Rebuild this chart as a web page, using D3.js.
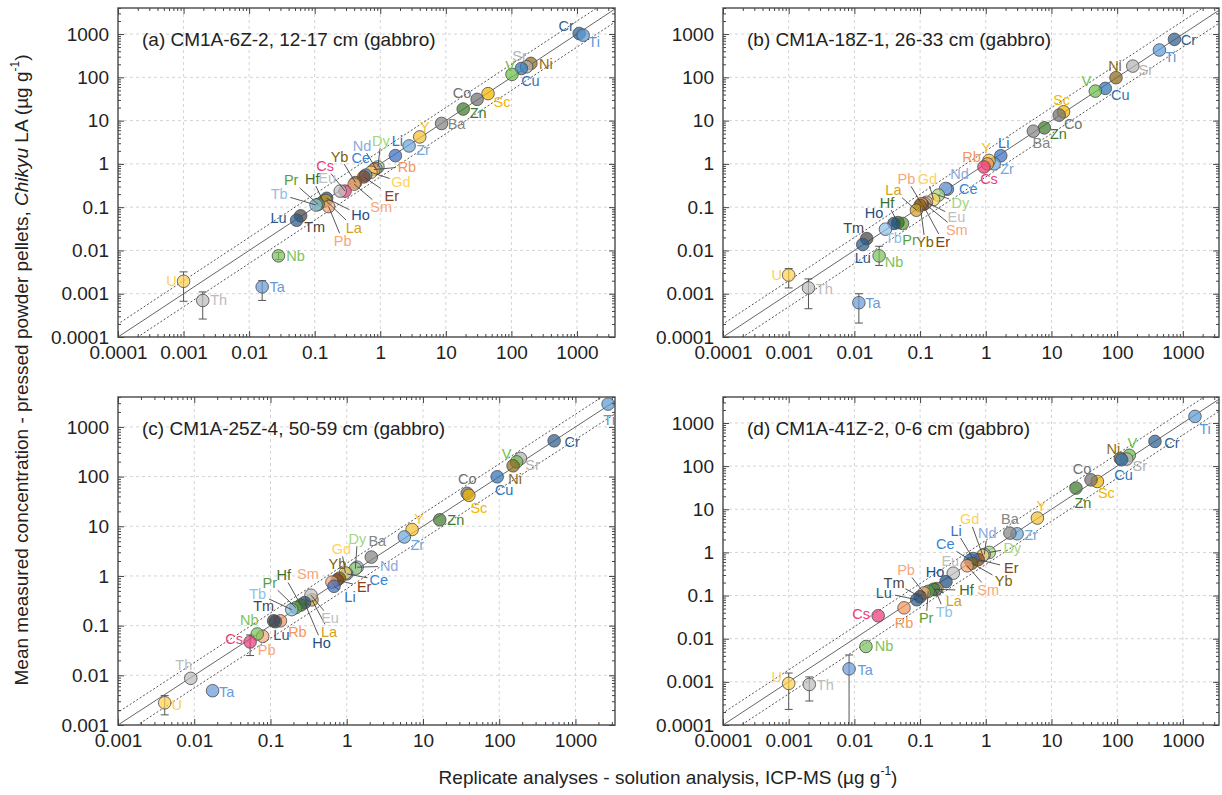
<!DOCTYPE html>
<html>
<head>
<meta charset="utf-8">
<script src="https://cdn.jsdelivr.net/npm/d3@7"></script>
<style>
  body { margin: 0; background: #fff; }
  svg text { font-family: "Liberation Sans", Arial, sans-serif; }
</style>
</head>
<body>
<svg id="chart" width="1222" height="795"></svg>
<script>
// colour of each element, used for marker and label
const elColour = {
  Cr:'#2f5f8f', Ti:'#5b9bd5', Ni:'#8b6a1e', Sr:'#b3b3b3', V:'#6cbf4a', Cu:'#2e74b5',
  Co:'#707070', Sc:'#f2b600', Zn:'#3e7b2c', Ba:'#858585', Y:'#f5c030', Zr:'#6fa8dc',
  Li:'#3d6fc2', Nd:'#8eaadb', Dy:'#9fd67e', Ce:'#3585d4', Rb:'#f4965a', Gd:'#ffd25e',
  Er:'#86401a', Sm:'#f7a77a', Yb:'#7f6000', Cs:'#ec3b7c', Eu:'#c0c0c0', Ho:'#1f4e84',
  La:'#d4a020', Pb:'#f7a77a', Hf:'#3b6e2a', Pr:'#5a9e3a', Tb:'#8fbfe8', Tm:'#454545',
  Lu:'#2a5a8a', Nb:'#7cc25c', U:'#ffd050', Th:'#bcbcbc', Ta:'#6a9ad8'
};

// (a) CM1A-6Z-2
const elA  = ['Cr','Ti','Ni','Sr','Cu','V','Sc','Co','Zn','Ba','Y','Zr','Li','Dy','Nd','Rb','Gd','Ce','Er','Yb','Sm','Cs','Eu','Ho','Hf','La','Pb','Pr','Tb','Tm','Lu','Nb','Ta','U','Th'];
const solA = [1080,1240,198,170,142,102,44,30,18.4,8.6,4.0,2.75,1.7,0.92,0.86,0.8,0.72,0.6,0.56,0.42,0.4,0.29,0.245,0.152,0.135,0.148,0.163,0.113,0.105,0.061,0.053,0.028,0.0158,0.001,0.00196];
const laA  = [1030,940,210,175,160,117,42,31,18.5,8.6,4.2,2.6,1.55,0.85,0.78,0.74,0.64,0.55,0.5,0.37,0.34,0.235,0.235,0.16,0.135,0.142,0.103,0.116,0.112,0.063,0.05,0.0075,0.00144,0.00194,0.0007];
const errElA = ['U','Th','Ta','Nb'];
const errLoA = [0.00067,0.00026,0.0007,0.0062];
const errHiA = [0.0032,0.0011,0.002,0.009];

// (b) CM1A-18Z-1
const elB  = ['Cr','Ti','Sr','Ni','Cu','V','Sc','Co','Zn','Ba','Li','Zr','Y','Rb','Cs','Ce','Nd','Dy','Gd','Eu','Sm','Er','Pb','Yb','La','Pr','Hf','Ho','Tb','Tm','Lu','Nb','Ta','U','Th'];
const solB = [745,440,173,96,66,46.5,15.3,13.1,7.8,5.3,1.69,1.34,1.12,1.06,0.94,0.26,0.245,0.19,0.16,0.125,0.118,0.11,0.105,0.1,0.088,0.054,0.046,0.04,0.0297,0.0154,0.0134,0.0238,0.0117,0.001,0.002];
const laB  = [754,428,182,98,55.5,48,16,13.4,6.8,5.7,1.54,1.0,1.2,1.0,0.85,0.26,0.27,0.19,0.15,0.13,0.12,0.115,0.12,0.11,0.085,0.042,0.044,0.042,0.031,0.0188,0.0137,0.0075,0.00062,0.0027,0.00136];
const errElB = ['U','Th','Ta','Nb'];
const errLoB = [0.00136,0.00045,0.00021,0.0045];
const errHiB = [0.0038,0.0022,0.001,0.0125];

// (c) CM1A-25Z-4
const elC  = ['Ti','Cr','Sr','V','Ni','Cu','Co','Sc','Zn','Y','Zr','Ba','Nd','Dy','Ce','Gd','Yb','Er','Sm','Li','La','Eu','Ho','Hf','Pr','Tb','Rb','Lu','Tm','Pb','Nb','Cs','Ta','Th','U'];
const solC = [2680,525,190,169,152,94,38,40,16.6,7.2,5.7,2.1,1.37,1.3,1.0,0.96,0.8,0.75,0.64,0.68,0.35,0.34,0.28,0.25,0.215,0.19,0.135,0.116,0.11,0.079,0.067,0.054,0.0174,0.009,0.0041];
const laC  = [2880,525,232,198,165,99,46,42,13.5,8.6,6.1,2.4,1.5,1.4,1.1,1.15,0.9,0.83,0.75,0.62,0.33,0.41,0.29,0.26,0.23,0.21,0.125,0.12,0.125,0.061,0.068,0.047,0.0049,0.0087,0.0028];
const errElC = ['U','Cs'];
const errLoC = [0.0016,0.025];
const errHiC = [0.0039,0.065];

// (d) CM1A-41Z-2
const elD  = ['Ti','Cr','V','Sr','Ni','Cu','Sc','Co','Zn','Y','Zr','Ba','Dy','Nd','Gd','Er','Li','Ce','Yb','Sm','Eu','Ho','La','Tb','Hf','Pr','Pb','Tm','Lu','Rb','Cs','Nb','Ta','Th','U'];
const solD = [1530,376,153,140,112,117,50,40,23.6,6.1,3.0,2.33,1.13,0.95,0.9,0.77,0.64,0.58,0.61,0.52,0.32,0.248,0.18,0.17,0.16,0.133,0.115,0.1,0.089,0.057,0.023,0.015,0.0083,0.00206,0.001];
const laD  = [1420,374,178,146,150,141,44,48,31,6.25,2.7,2.8,1.0,0.9,0.85,0.68,0.72,0.66,0.56,0.49,0.33,0.21,0.145,0.137,0.14,0.125,0.115,0.094,0.08,0.052,0.034,0.0066,0.002,0.00087,0.00092];
const errElD = ['U','Th','Ta'];
const errLoD = [0.00023,0.00036,0.00005];
const errHiD = [0.0016,0.0013,0.0042];

// label placement: pixel offset from the marker, 1 = draw a leader line
const lblA = {Cr:[-13,-8,0],Ti:[11,7,0],Ni:[15,1,0],Sr:[-7,-11,0],Cu:[9,13,0],V:[-2,-8,0],Sc:[14,8,0],Co:[-15,-6,0],
  Zn:[15,4,0],Ba:[15,1,0],Y:[5,-10,0],Zr:[14,4,0],Li:[2,-15,0],Dy:[3,-26,1],Nd:[-14,-23,1],Rb:[33,-3,1],Gd:[30,10,1],
  Ce:[-5,-17,0],Er:[28,19,1],Yb:[-16,-26,1],Sm:[27,23,1],Cs:[-20,-25,1],Eu:[-13,-13,0],Ho:[34,17,1],Hf:[-11,-23,1],
  La:[28,27,1],Pb:[14,34,1],Pr:[-27,-24,1],Tb:[-37,-11,1],Tm:[14,11,0],Lu:[-18,-2,0],Nb:[17,0,0],Ta:[15,0,0],U:[-12,0,0],Th:[16,0,0]};
const lblB = {Cr:[14,1,0],Ti:[11,7,0],Sr:[13,4,0],Ni:[-1,-12,0],Cu:[15,7,0],V:[-9,-10,0],Sc:[-2,-12,0],Co:[14,9,0],
  Zn:[14,6,0],Ba:[8,12,0],Li:[3,-13,0],Zr:[13,5,0],Y:[-3,-12,0],Rb:[-16,-7,0],Cs:[5,12,0],Ce:[21,0,0],Nd:[14,-14,0],
  Dy:[22,8,1],Gd:[-6,-21,1],Eu:[30,15,1],Sm:[32,26,1],Er:[20,37,1],Pb:[-15,-25,1],Yb:[5,37,1],La:[-23,-20,1],
  Pr:[7,17,0],Hf:[-11,-20,1],Ho:[-20,-10,0],Tb:[8,9,0],Tm:[-13,-11,0],Lu:[0,13,0],Nb:[15,6,0],Ta:[14,0,0],U:[-12,0,0],Th:[16,1,0]};
const lblC = {Ti:[1,16,0],Cr:[18,1,0],Sr:[12,7,0],V:[-10,-8,0],Ni:[2,13,0],Cu:[7,13,0],Co:[0,-14,0],Sc:[10,13,0],
  Zn:[16,0,0],Y:[7,-11,0],Zr:[13,8,0],Ba:[6,-16,0],Nd:[32,-1,1],Dy:[2,-30,1],Ce:[32,6,1],Gd:[-4,-24,1],Yb:[-2,-14,0],
  Er:[27,7,1],Sm:[-24,-8,0],Li:[16,11,1],La:[17,32,1],Eu:[19,23,1],Ho:[17,40,1],Hf:[-17,-30,1],Pr:[-26,-25,1],
  Tb:[-34,-16,1],Rb:[17,11,0],Lu:[6,13,0],Tm:[-10,-15,0],Pb:[4,14,0],Nb:[-8,-14,0],Cs:[-16,-3,0],Ta:[14,1,0],Th:[-7,-13,0],U:[12,2,0]};
const lblD = {Ti:[10,13,0],Cr:[17,2,0],V:[3,-12,0],Sr:[13,7,0],Ni:[-7,-10,0],Cu:[2,15,0],Sc:[9,11,0],Co:[-9,-11,0],
  Zn:[7,15,0],Y:[4,-12,0],Zr:[14,1,0],Ba:[0,-14,0],Dy:[23,-4,1],Nd:[3,-21,1],Gd:[-13,-36,1],Er:[33,8,1],Li:[-17,-28,1],
  Ce:[-25,-16,1],Yb:[32,18,1],Sm:[21,24,1],Eu:[-3,-12,0],Ho:[-11,-10,0],La:[17,12,1],Tb:[9,22,1],Hf:[33,1,1],
  Pr:[-2,27,1],Pb:[-18,-23,1],Tm:[-26,-14,1],Lu:[-33,-7,1],Rb:[0,15,0],Cs:[-17,-2,0],Nb:[18,0,0],Ta:[16,1,0],Th:[16,1,0],U:[-12,-6,0]};

const panels = [
  {id:'a', title:'(a) CM1A-6Z-2, 12-17 cm (gabbro)', left:118, top:8, right:615, bottom:337,
   xDom:[1e-4,3800], yDom:[1e-4,4000], band:2, el:elA, sol:solA, la:laA, errEl:errElA, errLo:errLoA, errHi:errHiA, lbl:lblA},
  {id:'b', title:'(b) CM1A-18Z-1, 26-33 cm (gabbro)', left:723, top:8, right:1219, bottom:337,
   xDom:[1e-4,3550], yDom:[1e-4,4000], band:2, el:elB, sol:solB, la:laB, errEl:errElB, errLo:errLoB, errHi:errHiB, lbl:lblB},
  {id:'c', title:'(c) CM1A-25Z-4, 50-59 cm (gabbro)', left:118, top:397, right:615, bottom:725,
   xDom:[1e-3,3300], yDom:[1e-3,4000], band:1.8, el:elC, sol:solC, la:laC, errEl:errElC, errLo:errLoC, errHi:errHiC, lbl:lblC},
  {id:'d', title:'(d) CM1A-41Z-2, 0-6 cm (gabbro)', left:723, top:397, right:1219, bottom:725,
   xDom:[1e-4,3550], yDom:[1e-4,4000], band:1.9, el:elD, sol:solD, la:laD, errEl:errElD, errLo:errLoD, errHi:errHiD, lbl:lblD}
];

const svg = d3.select('#chart');
const isDecade = v => Math.abs(Math.log10(v) - Math.round(Math.log10(v))) < 1e-9;
const fmt = d3.format('~g');

panels.forEach(drawPanel);

function drawPanel(p) {
  const x = d3.scaleLog().domain(p.xDom).range([p.left, p.right]);
  const y = d3.scaleLog().domain(p.yDom).range([p.bottom, p.top]);
  const g = svg.append('g');

  svg.append('clipPath').attr('id', 'clip' + p.id)
    .append('rect').attr('x', p.left).attr('y', p.top)
    .attr('width', p.right - p.left).attr('height', p.bottom - p.top);
  const inner = g.append('g').attr('clip-path', `url(#clip${p.id})`);

  const xAll = x.ticks(), yAll = y.ticks();
  const xMaj = xAll.filter(isDecade), yMaj = yAll.filter(isDecade);
  const xMin = xAll.filter(v => !isDecade(v)), yMin = yAll.filter(v => !isDecade(v));

  // grid
  inner.selectAll('.gx').data(xMaj).enter().append('line')
    .attr('x1', d => x(d)).attr('x2', d => x(d)).attr('y1', p.top).attr('y2', p.bottom)
    .attr('stroke', '#d4d4d4').attr('stroke-dasharray', '3,3');
  inner.selectAll('.gy').data(yMaj).enter().append('line')
    .attr('y1', d => y(d)).attr('y2', d => y(d)).attr('x1', p.left).attr('x2', p.right)
    .attr('stroke', '#d4d4d4').attr('stroke-dasharray', '3,3');

  // 1:1 line and the two bounds
  const lo = p.xDom[0] / 100, hi = p.xDom[1] * 100;
  [1, p.band, 1 / p.band].forEach((f, i) => {
    inner.append('line')
      .attr('x1', x(lo)).attr('y1', y(lo * f)).attr('x2', x(hi)).attr('y2', y(hi * f))
      .attr('stroke', i === 0 ? '#666' : '#555').attr('stroke-width', 1)
      .attr('stroke-dasharray', i === 0 ? null : '2,2');
  });

  const pts = p.el.map((e, i) => ({e, xv: p.sol[i], yv: p.la[i]}));
  const byEl = {};
  pts.forEach(d => { byEl[d.e] = d; });

  // error bars
  p.errEl.forEach((e, i) => {
    const d = byEl[e];
    const cx = x(d.xv);
    const y1 = y(Math.max(p.errLo[i], p.yDom[0])), y2 = y(p.errHi[i]);
    inner.append('line').attr('x1', cx).attr('x2', cx).attr('y1', y1).attr('y2', y2)
      .attr('stroke', '#555').attr('stroke-width', 1);
    [y1, y2].forEach((yy, k) => {
      if (k === 0 && p.errLo[i] < p.yDom[0]) return;
      inner.append('line').attr('x1', cx - 4).attr('x2', cx + 4).attr('y1', yy).attr('y2', yy)
        .attr('stroke', '#555').attr('stroke-width', 1);
    });
  });

  // leader lines
  pts.forEach(d => {
    const o = p.lbl[d.e];
    if (!o || !o[2]) return;
    const cx = x(d.xv), cy = y(d.yv);
    const lx = cx + o[0], ly = cy + o[1];
    const hw = d.e.length * 4.6 + 2, hh = 7.5;
    const vx = cx - lx, vy = cy - ly;
    const t = Math.min(vx ? hw / Math.abs(vx) : Infinity, vy ? hh / Math.abs(vy) : Infinity);
    g.append('line').attr('x1', cx).attr('y1', cy).attr('x2', lx + vx * t).attr('y2', ly + vy * t)
      .attr('stroke', '#444').attr('stroke-width', 0.9);
  });

  // markers
  inner.selectAll('.pt').data(pts).enter().append('circle')
    .attr('cx', d => x(d.xv)).attr('cy', d => y(d.yv)).attr('r', 6.3)
    .attr('fill', d => elColour[d.e]).attr('fill-opacity', 0.72)
    .attr('stroke', '#4a4a4a').attr('stroke-width', 0.8);

  // element labels
  g.selectAll('.lb').data(pts).enter().append('text')
    .attr('x', d => x(d.xv) + p.lbl[d.e][0])
    .attr('y', d => y(d.yv) + p.lbl[d.e][1])
    .attr('text-anchor', 'middle').attr('dominant-baseline', 'central')
    .attr('font-size', 14.5).attr('fill', d => elColour[d.e])
    .text(d => d.e);

  // frame
  g.append('rect').attr('x', p.left).attr('y', p.top)
    .attr('width', p.right - p.left).attr('height', p.bottom - p.top)
    .attr('fill', 'none').attr('stroke', '#555').attr('stroke-width', 1.5);

  // axes: minor and major ticks on all four sides, pointing inwards
  const styleAxis = sel => {
    sel.select('.domain').remove();
    sel.selectAll('line').attr('stroke', '#444');
    sel.selectAll('text').attr('font-size', 19).attr('fill', '#222')
      .attr('font-family', '"Liberation Sans", Arial, sans-serif');
  };
  const sides = [
    [d3.axisBottom, x, xMaj, xMin, `translate(0,${p.bottom})`, true],
    [d3.axisTop, x, xMaj, xMin, `translate(0,${p.top})`, false],
    [d3.axisLeft, y, yMaj, yMin, `translate(${p.left},0)`, true],
    [d3.axisRight, y, yMaj, yMin, `translate(${p.right},0)`, false]
  ];
  sides.forEach(([ax, sc, maj, mn, tr, labels]) => {
    g.append('g').attr('transform', tr)
      .call(ax(sc).tickValues(mn).tickSizeInner(-3).tickSizeOuter(0).tickFormat(''))
      .call(styleAxis);
    g.append('g').attr('transform', tr)
      .call(ax(sc).tickValues(maj).tickSizeInner(-6).tickSizeOuter(0)
        .tickPadding(labels ? 9 : 3).tickFormat(labels ? fmt : ''))
      .call(styleAxis);
  });

  // panel title
  g.append('text').attr('x', p.left + 24).attr('y', p.top + 31)
    .attr('dominant-baseline', 'central').attr('font-size', 19).attr('fill', '#222')
    .text(p.title);
}

// axis titles
const yt = svg.append('text').attr('transform', 'translate(21,370) rotate(-90)')
  .attr('text-anchor', 'middle').attr('dominant-baseline', 'central')
  .attr('font-size', 19).attr('fill', '#222');
yt.append('tspan').text('Mean measured concentration - pressed powder pellets, ');
yt.append('tspan').attr('font-style', 'italic').text('Chikyu');
yt.append('tspan').text(' LA (µg g');
yt.append('tspan').attr('font-size', 12).attr('baseline-shift', '6').text('-1');
yt.append('tspan').text(')');

const xt = svg.append('text').attr('x', 668).attr('y', 777)
  .attr('text-anchor', 'middle').attr('dominant-baseline', 'central')
  .attr('font-size', 19).attr('fill', '#222');
xt.append('tspan').text('Replicate analyses - solution analysis, ICP-MS (µg g');
xt.append('tspan').attr('font-size', 12).attr('baseline-shift', '6').text('-1');
xt.append('tspan').text(')');
</script>
</body>
</html>
